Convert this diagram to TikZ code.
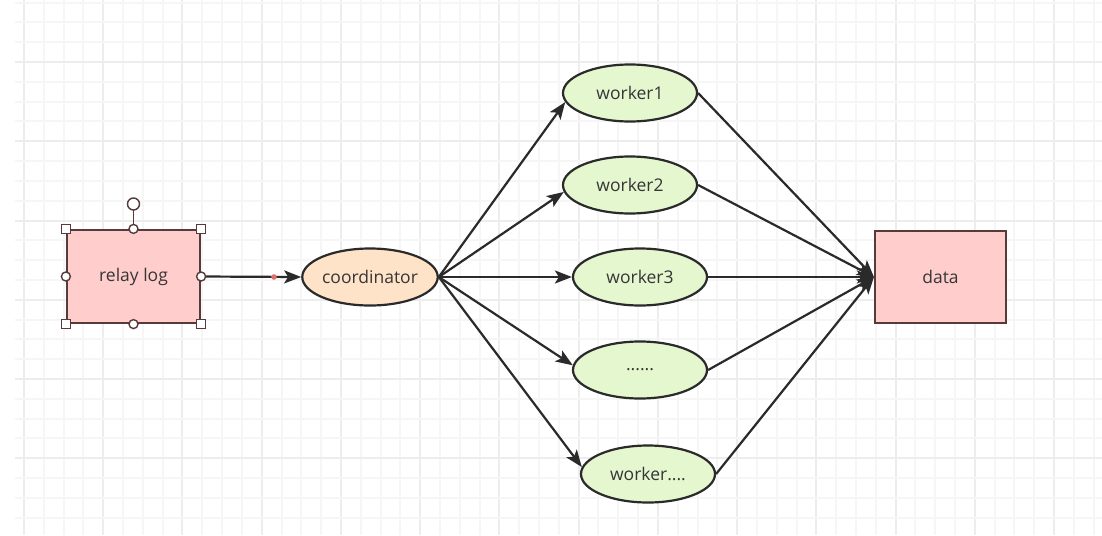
\documentclass[tikz,border=0pt]{standalone}
\usepackage{fontspec}
\setmainfont{Open Sans}
\usetikzlibrary{shapes.geometric,arrows.meta}
\definecolor{pinkfill}{HTML}{FFCECC}
\definecolor{pinkline}{HTML}{573A3A}
\definecolor{peachfill}{HTML}{FFE3C8}
\definecolor{greenfill}{HTML}{E5F7CF}
\definecolor{edgecol}{HTML}{2A2A2A}
\definecolor{txtcol}{HTML}{363636}
\definecolor{gridminor}{HTML}{F6F6F6}
\definecolor{gridmajor}{HTML}{EDEDED}
\definecolor{reddot}{HTML}{E07070}
\tikzset{
  boxnode/.style={draw=pinkline, fill=pinkfill, line width=2.2pt, minimum width=133pt, minimum height=93pt, inner sep=0pt, text=txtcol, font=\fontsize{17.5}{20}\selectfont},
  ellnode/.style={ellipse, draw=edgecol, line width=2.2pt, minimum width=134pt, minimum height=57pt, inner sep=0pt, text=txtcol, font=\fontsize{17.5}{20}\selectfont},
  worker/.style={ellnode, fill=greenfill},
  conn/.style={draw=edgecol, line width=2.2pt, -{Stealth[length=17pt,width=13pt,inset=4pt]}},
  handlesq/.style={draw=pinkline, fill=white, line width=1.4pt, minimum size=9pt, inner sep=0pt},
  handleci/.style={circle, draw=pinkline, fill=white, line width=1.4pt, minimum size=9pt, inner sep=0pt},
}
\begin{document}
\begin{tikzpicture}[x=1pt,y=-1pt]
\useasboundingbox (0,0) rectangle (1102,535);
\fill[white] (0,0) rectangle (1102,535);
% grid
\foreach \k in {0,...,54}{
  \pgfmathsetmacro\gx{round(24+19.81*\k)}
  \pgfmathtruncatemacro\m{mod(\k,4)}
  \ifnum\m=0
    \draw[gridmajor, line width=1.5pt] (\gx,0) -- (\gx,535);
  \else
    \draw[gridminor, line width=1.2pt] (\gx,0) -- (\gx,535);
  \fi
}
\foreach \k in {0,...,26}{
  \pgfmathsetmacro\gy{round(2.6+19.81*\k)}
  \pgfmathtruncatemacro\m{mod(\k+1,4)}
  \ifnum\m=0
    \draw[gridmajor, line width=1.5pt] (15,\gy) -- (1102,\gy);
  \else
    \draw[gridminor, line width=1.2pt] (15,\gy) -- (1102,\gy);
  \fi
}
% nodes
\node[boxnode] (relay) at (133.5,276.5) {relay log};
\node[ellnode, fill=peachfill] (coord) at (370,277) {coordinator};
\node[worker] (w1) at (630,93) {worker1};
\node[worker] (w2) at (630,185) {worker2};
\node[worker] (w3) at (640,277) {worker3};
\node[worker] (w4) at (640,370) {......};
\node[worker] (w5) at (648,474) {worker....};
\node[boxnode, minimum width=131pt, minimum height=92pt] (data) at (940.5,277) {data};
% connectors
\draw[conn] (relay.east) -- (coord.west);
\fill[reddot] (274,277) circle (2.8pt);
\draw[conn] (coord.east) -- (w1.188);
\draw[conn] (coord.east) -- (w2.186);
\draw[conn] (coord.east) -- (w3.west);
\draw[conn] (coord.east) -- (w4.176);
\draw[conn] (coord.east) -- (w5.174);
\foreach \w in {w1,w2,w3,w4,w5}{
  \draw[conn] (\w.east) -- (data.west);
}
% selection handles
\coordinate (rot) at (133.5,204);
\draw[pinkline, line width=1.4pt] (relay.north) -- ([yshift=-6pt]rot);
\node[handleci, minimum size=12pt] (rh) at (rot) {};
\foreach \a in {north west,north east,south west,south east}{
  \node[handlesq] at (relay.\a) {};
}
\foreach \a in {north,south,east,west}{
  \node[handleci] at (relay.\a) {};
}
\end{tikzpicture}
\end{document}
